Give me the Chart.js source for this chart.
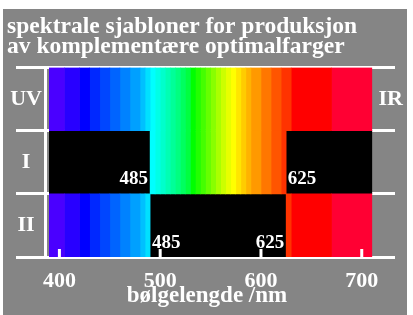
<!DOCTYPE html>
<html>
<head>
<meta charset="utf-8">
<script src="https://cdn.jsdelivr.net/npm/chart.js@4/dist/chart.umd.min.js"></script>
<style>
  html, body { margin: 0; padding: 0; background: #fff; }
  #wrap { position: absolute; left: 3px; top: 9px; width: 404px; height: 306px; background: #858585; }
</style>
</head>
<body>
<div id="wrap"><canvas id="spekter" width="404" height="306"></canvas></div>
<script>
// rader (kategorier)
const rows = ['UV', 'I', 'II'];
const rightLabels = ['IR', '', ''];

// spektralbånd: startbølgelengde (nm) og farge, siste bånd slutter ved bandEnd
const bandStart = [390, 405, 420, 430, 440, 450, 460, 470, 480, 485,
                   490, 495, 500, 505, 510, 515, 520, 525, 530, 535,
                   540, 545, 550, 555, 560, 565, 570, 575, 580, 585,
                   590, 600, 610, 620, 630, 670];
const bandColor = ['#4a00ff', '#2800ff', '#0000ff', '#0028ff', '#0046ff', '#0064ff', '#0082ff', '#00a0ff', '#00c0ff', '#00e0ff',
                   '#00ffff', '#00ffe6', '#00ffcc', '#00ffb3', '#00ff99', '#00ff80', '#00ff60', '#00ff40', '#00ff00', '#22ff00',
                   '#44ff00', '#66ff00', '#88ff00', '#aaff00', '#ccff00', '#e8ff00', '#ffff00', '#ffe600', '#ffcc00', '#ffb300',
                   '#ff9900', '#ff7700', '#ff5500', '#ff3300', '#ff0000', '#ff0033'];
const bandEnd = 710;

// kantene for sjablonene (slik de ligger på aksen) og tekstene
const cutLo = 490;
const cutHi = 625;
const cutText = ['485', '625'];

const xTicks = [400, 500, 600, 700];

// bygg datasett: rad UV = hele spekteret, I = bare mellom kantene, II = bare utenfor
const datasets = [];
bandStart.forEach((a, i) => {
    const b = i < bandStart.length - 1 ? bandStart[i + 1] : bandEnd;
    const rowI = (b > cutLo && a < cutHi) ? [Math.max(a, cutLo), Math.min(b, cutHi)] : null;
    let rowII = null;
    if (a < cutLo) rowII = [a, Math.min(b, cutLo)];
    else if (b > cutHi) rowII = [Math.max(a, cutHi), b];
    datasets.push({ data: [[a, b], rowI, rowII], backgroundColor: bandColor[i] });
});
datasets.push({ data: [null, [bandStart[0], cutLo], [cutLo, cutHi]], backgroundColor: '#000' });
datasets.push({ data: [null, [cutHi, bandEnd], null], backgroundColor: '#000' });

// små merker inne i diagrammet og tallene ved kantene
const innerMarks = {
    id: 'innerMarks',
    afterDraw(chart) {
        const { ctx, chartArea, scales: { x, y } } = chart;
        ctx.save();
        ctx.strokeStyle = '#fff';
        ctx.lineWidth = 3;
        xTicks.forEach(v => {
            const px = x.getPixelForValue(v);
            ctx.beginPath();
            ctx.moveTo(px, chartArea.bottom);
            ctx.lineTo(px, chartArea.bottom - 8);
            ctx.stroke();
        });
        const half = (y.getPixelForValue(1) - y.getPixelForValue(0)) / 2;
        const lo = x.getPixelForValue(cutLo);
        const hi = x.getPixelForValue(cutHi);
        ctx.fillStyle = '#fff';
        ctx.font = 'bold 19px "Liberation Serif", serif';
        ctx.textBaseline = 'alphabetic';
        const y1 = y.getPixelForValue(1) + half - 10;
        const y2 = y.getPixelForValue(2) + half - 9.5;
        ctx.textAlign = 'right';
        ctx.fillText(cutText[0], lo - 2, y1);
        ctx.fillText(cutText[1], hi - 2, y2);
        ctx.textAlign = 'left';
        ctx.fillText(cutText[1], hi + 1.5, y1);
        ctx.fillText(cutText[0], lo + 2, y2);
        ctx.restore();
    }
};

Chart.defaults.font.family = '"Liberation Serif", "Times New Roman", serif';
Chart.defaults.color = '#fff';

const ctx = document.getElementById('spekter').getContext('2d');
const chart = new Chart(ctx, {
    type: 'bar',
    data: { labels: rows, datasets: datasets },
    options: {
        indexAxis: 'y',
        animation: false,
        responsive: false,
        layout: { padding: { left: 4, right: 0, top: 0, bottom: 0 } },
        datasets: { bar: { grouped: false, barPercentage: 1, categoryPercentage: 1, borderWidth: 0 } },
        plugins: {
            legend: { display: false },
            tooltip: { enabled: false },
            title: {
                display: true,
                align: 'start',
                text: ['spektrale sjabloner for produksjon', 'av komplementære optimalfarger'],
                color: '#fff',
                font: { size: 23.5, weight: 'bold', lineHeight: '20px' },
                padding: { top: 7.8, bottom: 10.7 }
            },
            // aksetittelen står midt på bildet, ikke midt på aksen
            subtitle: {
                display: true,
                position: 'bottom',
                text: 'bølgelengde /nm',
                color: '#fff',
                font: { size: 23, weight: 'bold', lineHeight: 1.2 },
                padding: { top: -15, bottom: 5.2 }
            }
        },
        scales: {
            x: {
                type: 'linear',
                min: 386,
                max: 733,
                grid: { display: false, drawTicks: false },
                border: { display: false },
                afterBuildTicks: s => { s.ticks = xTicks.map(v => ({ value: v })); },
                afterFit: s => { s.height = 40.2; },
                ticks: { color: '#fff', font: { size: 22, weight: 'bold' }, padding: 11 }
            },
            y: {
                z: 1,
                offset: true,
                grid: { color: '#fff', lineWidth: 3, offset: true, drawTicks: true, tickLength: 29.3 },
                border: { display: true, color: '#fff', width: 3 },
                ticks: { color: '#fff', font: { size: 22, weight: 'bold' }, crossAlign: 'center', padding: -26 },
                afterFit: s => { s.width = 38.3; }
            },
            y2: {
                type: 'category',
                labels: rightLabels,
                position: 'right',
                offset: true,
                z: 1,
                grid: { display: false, drawTicks: false },
                border: { display: false },
                ticks: { color: '#fff', font: { size: 22, weight: 'bold' }, mirror: true, padding: 8 },
                afterFit: s => { s.width = 12; }
            }
        }
    },
    plugins: [innerMarks]
});
</script>
</body>
</html>
